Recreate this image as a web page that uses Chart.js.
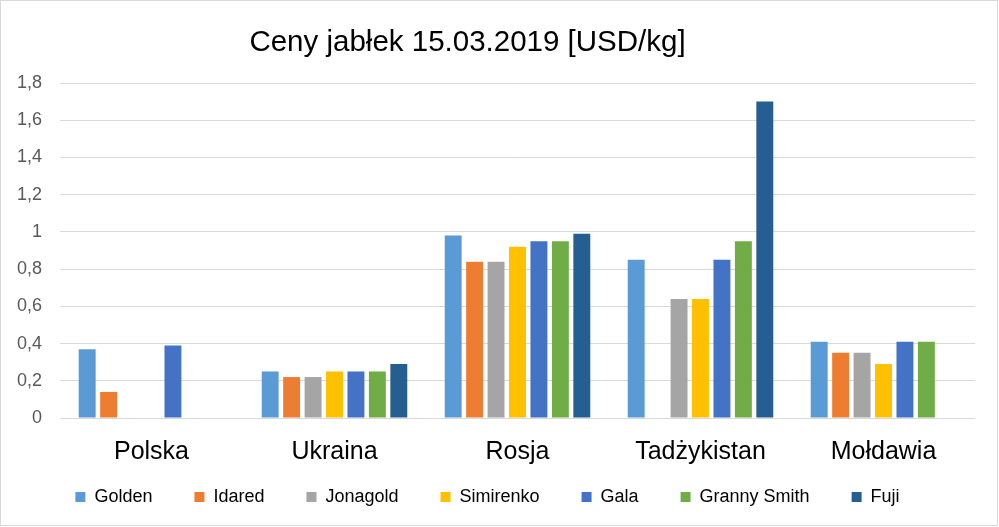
<!DOCTYPE html>
<html>
<head>
<meta charset="utf-8">
<script src="https://cdn.jsdelivr.net/npm/chart.js@4"></script>
<style>
  html, body { margin: 0; padding: 0; background: #fff; }
  #c { display: block; }
</style>
</head>
<body>
<canvas id="c" width="999" height="527"></canvas>
<script>
const categories = ['Polska', 'Ukraina', 'Rosja', 'Tadżykistan', 'Mołdawia'];
const golden    = [0.37, 0.25, 0.98, 0.85, 0.41];
const idared    = [0.14, 0.22, 0.84, null, 0.35];
const jonagold  = [null, 0.22, 0.84, 0.64, 0.35];
const simirenko = [null, 0.25, 0.92, 0.64, 0.29];
const gala      = [0.39, 0.25, 0.95, 0.85, 0.41];
const granny    = [null, 0.25, 0.95, 0.95, 0.41];
const fuji      = [null, 0.29, 0.99, 1.70, null];
const yTicks = [0, 0.2, 0.4, 0.6, 0.8, 1, 1.2, 1.4, 1.6, 1.8];

const FONT = "'Liberation Sans', Arial, sans-serif";

const series = [
  ['Golden', golden, '#5B9BD5'],
  ['Idared', idared, '#ED7D31'],
  ['Jonagold', jonagold, '#A5A5A5'],
  ['Simirenko', simirenko, '#FFC000'],
  ['Gala', gala, '#4472C4'],
  ['Granny Smith', granny, '#70AD47'],
  ['Fuji', fuji, '#255E91']
];

const LEGEND_H = 61;   // height reserved for the legend box
const LEGEND_GAP = 28; // legend box starts this far below the plot area

const frame = {
  id: 'frame',
  beforeLayout(chart) {
    const lg = chart.legend;
    if (lg && !lg._fitPatched) {
      const f = lg.fit;
      lg.fit = function () { f.call(this); this.height = LEGEND_H; };
      lg._fitPatched = true;
    }
  },
  beforeDraw(chart) {
    const ctx = chart.ctx;
    ctx.save();
    ctx.fillStyle = '#fff';
    ctx.fillRect(0, 0, chart.width, chart.height);
    ctx.restore();
  },
  afterLayout(chart) {
    const t = chart.titleBlock;
    if (t) { t.left = 0; t.right = 935; t.width = 935; }
    const lg = chart.legend;
    if (lg) {
      lg.top = chart.chartArea.bottom + LEGEND_GAP;
      lg.bottom = lg.top + lg.height;
    }
  },
  afterDraw(chart) {
    const ctx = chart.ctx;
    ctx.save();
    ctx.strokeStyle = '#D9D9D9';
    ctx.lineWidth = 1;
    ctx.strokeRect(0.5, 0.5, chart.width - 2, chart.height - 2);
    ctx.restore();
  }
};

new Chart(document.getElementById('c'), {
  type: 'bar',
  data: {
    labels: categories,
    datasets: series.map(([label, data, color]) => ({
      label, data, backgroundColor: color, borderWidth: 0,
      categoryPercentage: 0.82, barPercentage: 0.79
    }))
  },
  options: {
    responsive: false,
    animation: false,
    devicePixelRatio: 1,
    layout: { padding: { left: 0, right: 24, top: 0, bottom: 0 } },
    plugins: {
      title: {
        display: true,
        text: 'Ceny jabłek 15.03.2019 [USD/kg]',
        color: '#000',
        font: { family: FONT, size: 29.5, weight: 'normal' },
        padding: { top: 25.1, bottom: 22.5 }
      },
      legend: {
        position: 'bottom',
        labels: {
          color: '#000',
          font: { family: FONT, size: 18 },
          boxWidth: 10,
          boxHeight: 10,
          padding: 42
        }
      },
      tooltip: { enabled: false }
    },
    scales: {
      x: {
        grid: { display: false, drawTicks: false },
        border: { display: false },
        ticks: { color: '#000', font: { family: FONT, size: 25 }, padding: 19 },
        afterFit(s) { s.height = 48; }
      },
      y: {
        min: 0, max: 1.8,
        afterBuildTicks(s) { s.ticks = yTicks.map(v => ({ value: v })); },
        grid: { color: '#D9D9D9', drawTicks: false, tickLength: 0 },
        border: { display: false },
        ticks: {
          color: '#595959',
          font: { family: FONT, size: 18 },
          padding: 18,
          callback: v => String(Number(v.toFixed(1))).replace('.', ',')
        },
        afterFit(s) { s.width = 60; }
      }
    }
  },
  plugins: [frame]
});
</script>
</body>
</html>
